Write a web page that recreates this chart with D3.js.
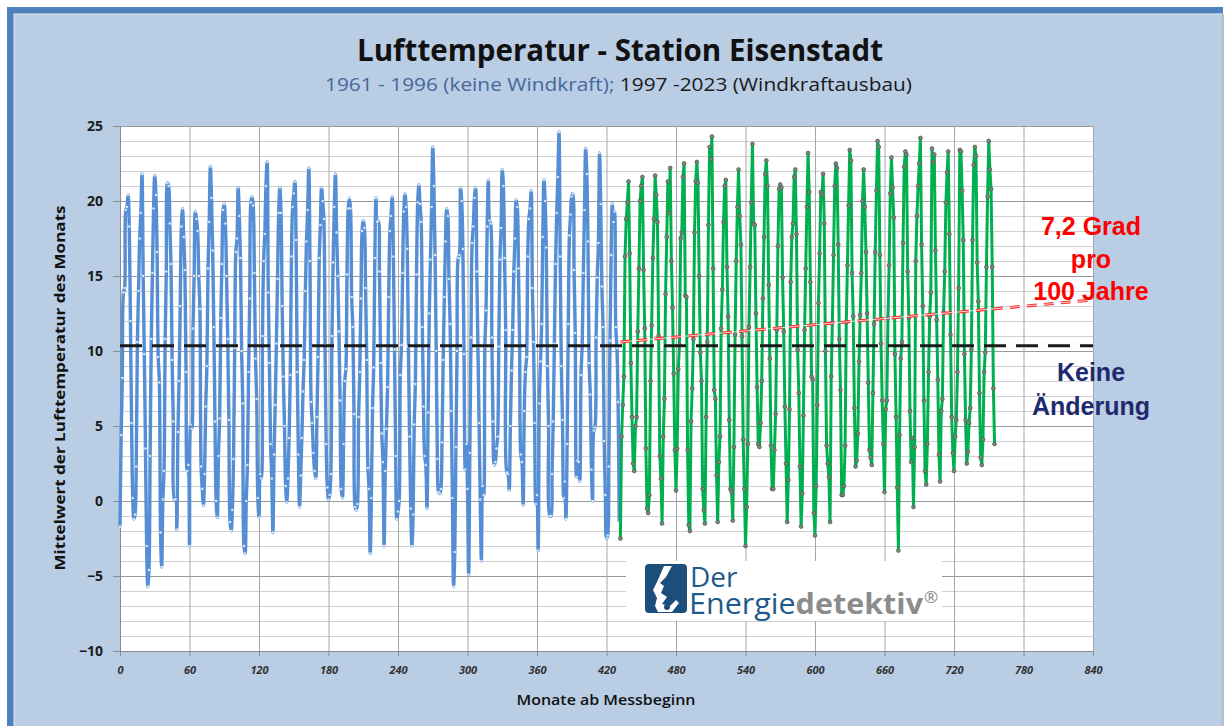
<!DOCTYPE html>
<html>
<head>
<meta charset="utf-8">
<script src="https://cdn.jsdelivr.net/npm/d3@7"></script>
<style>
  body { margin: 0; background: #ffffff; }
  svg { display: block; }
</style>
</head>
<body>
<svg width="1225" height="726"></svg>
<script>
// monthly mean air temperature, one row per year (Jan..Dec)
// 1961 - 1996 (blue)
var blueYears = [
  [-1.7, 4.4, 8.2, 13.9, 14.2, 19.4, 19.6, 20.4, 18.3, 12.0, 5.2, 0.2],
  [-1.2, -0.9, 2.3, 10.6, 14.0, 17.5, 19.2, 21.8, 15.0, 9.8, 3.5, -3.0],
  [-5.7, -4.6, 3.0, 10.8, 15.2, 19.5, 21.7, 20.4, 16.6, 9.6, 7.9, -2.1],
  [-4.4, 0.1, 2.0, 10.8, 15.3, 21.2, 21.0, 18.5, 15.8, 9.4, 5.3, 0.1],
  [0.1, -1.9, 4.6, 8.0, 13.0, 18.3, 19.5, 17.6, 15.4, 8.6, 2.0, 2.4],
  [-3.0, 5.1, 4.8, 11.5, 15.0, 19.3, 18.8, 18.0, 15.0, 12.8, 2.3, 0.8],
  [-0.3, 1.8, 6.3, 9.0, 15.5, 18.6, 22.3, 20.2, 16.7, 11.6, 5.3, 0.0],
  [-1.1, 3.0, 5.5, 12.2, 15.8, 19.4, 19.8, 18.5, 15.0, 10.8, 5.4, -1.4],
  [-2.0, -0.6, 2.8, 10.2, 16.6, 17.5, 20.9, 19.0, 16.2, 10.0, 6.5, -3.0],
  [-3.5, 0.0, 2.4, 8.6, 13.5, 19.9, 20.3, 19.7, 15.2, 9.5, 6.8, 0.2],
  [-1.1, 1.8, 1.5, 11.0, 16.0, 17.8, 21.0, 22.6, 13.9, 9.2, 3.8, 1.5],
  [-2.1, 3.1, 6.4, 10.5, 14.8, 19.2, 20.9, 19.2, 13.0, 8.3, 5.0, 1.0],
  [-0.1, 1.5, 4.2, 8.4, 16.3, 19.6, 20.5, 21.3, 17.4, 8.6, 3.1, -0.4],
  [1.7, 4.2, 7.3, 9.4, 14.0, 17.3, 19.4, 22.2, 16.0, 6.6, 5.2, 3.2],
  [2.0, 1.5, 5.6, 9.6, 16.2, 18.4, 20.9, 20.0, 18.8, 10.4, 3.8, 0.9],
  [0.1, 0.4, 1.8, 11.0, 15.9, 19.6, 21.8, 17.9, 15.0, 11.3, 6.7, 0.8],
  [0.2, 3.8, 8.0, 8.8, 15.1, 19.5, 20.2, 19.5, 13.6, 11.6, 5.8, -0.4],
  [-0.6, -0.2, 5.6, 8.6, 13.5, 18.0, 18.7, 18.2, 14.2, 9.4, 2.2, 0.8],
  [-3.5, 0.2, 6.2, 8.9, 16.2, 20.2, 18.6, 18.7, 15.3, 9.2, 4.5, 2.6],
  [-3.0, 2.0, 4.8, 7.6, 13.6, 18.0, 19.0, 20.3, 16.3, 10.1, 3.0, -1.2],
  [-0.7, 0.0, 8.4, 10.4, 15.2, 19.3, 20.5, 19.6, 16.8, 10.3, 4.3, -0.5],
  [-3.0, -0.9, 5.1, 7.8, 15.1, 19.9, 21.1, 19.8, 18.6, 11.6, 6.3, 3.0],
  [2.4, -0.5, 5.9, 12.5, 16.1, 19.6, 23.6, 21.0, 16.4, 10.0, 2.8, 0.6],
  [0.5, 0.8, 3.9, 9.4, 13.6, 17.3, 19.5, 19.0, 14.8, 11.8, 6.0, 0.2],
  [-5.7, -3.4, 3.6, 10.0, 16.2, 16.4, 20.9, 20.0, 16.8, 9.8, 2.1, 3.8],
  [0.8, -4.9, 3.2, 10.9, 17.2, 18.3, 20.2, 20.9, 15.3, 10.3, 5.2, 0.1],
  [-4.0, 1.0, 0.4, 10.3, 12.7, 18.3, 21.4, 18.7, 18.5, 10.9, 5.3, 2.4],
  [2.6, 3.5, 4.3, 10.3, 16.1, 18.2, 22.1, 21.0, 16.2, 11.4, 1.9, 1.8],
  [0.7, 5.0, 8.7, 11.4, 15.3, 17.5, 20.1, 19.6, 15.5, 10.4, 3.1, 2.6],
  [-0.3, 6.0, 8.6, 9.6, 16.3, 18.8, 19.5, 20.7, 14.2, 10.6, 5.2, -0.2],
  [0.4, -3.3, 6.5, 9.3, 11.8, 17.6, 21.4, 20.0, 16.9, 9.0, 5.0, -1.0],
  [-1.0, 1.8, 5.3, 10.5, 15.8, 19.2, 21.6, 24.6, 16.3, 9.0, 5.4, 0.2],
  [1.3, -1.2, 3.8, 11.8, 17.7, 19.1, 20.3, 20.5, 15.4, 11.2, 1.6, 2.7],
  [2.6, 1.3, 8.4, 10.4, 15.2, 19.4, 23.5, 21.8, 17.3, 9.2, 7.1, 2.1],
  [0.0, 4.7, 4.9, 10.9, 14.9, 17.2, 23.2, 19.8, 14.3, 11.6, 4.0, 0.4],
  [-2.5, -2.3, 2.3, 10.7, 16.4, 19.8, 18.6, 19.3, 11.6, 10.2, 6.6, -1.4]
];

// 1997 - 2023 (green)
var greenYears = [
  [-2.5, 4.3, 6.4, 8.3, 16.3, 18.8, 19.9, 21.3, 16.5, 9.2, 5.6, 2.5],
  [2.0, 5.0, 5.6, 11.3, 15.5, 20.0, 21.0, 21.6, 15.4, 11.5, 3.5, -0.5],
  [-0.8, 0.4, 8.0, 11.7, 16.2, 18.8, 21.7, 20.4, 18.6, 11.0, 3.0, 1.5],
  [-1.5, 4.3, 6.8, 13.8, 17.6, 21.3, 19.2, 22.2, 16.0, 12.9, 8.5, 3.4],
  [0.7, 3.5, 8.8, 10.4, 17.5, 17.9, 21.6, 22.5, 13.7, 13.6, 3.4, -1.6],
  [-2.0, 5.3, 7.5, 10.8, 17.9, 21.3, 22.6, 21.2, 15.0, 9.9, 8.0, 0.8],
  [-0.6, -1.5, 5.6, 10.6, 18.4, 23.6, 22.8, 24.3, 15.5, 7.4, 6.8, 1.7],
  [-1.4, 2.6, 4.3, 11.5, 14.1, 18.6, 21.0, 21.4, 15.6, 12.3, 5.4, 0.8],
  [0.6, -1.3, 3.6, 11.1, 16.0, 19.6, 22.1, 19.0, 17.1, 11.0, 4.1, 0.8],
  [-3.0, -0.4, 3.8, 11.6, 15.6, 19.9, 23.8, 18.5, 18.4, 12.5, 7.6, 3.8],
  [3.6, 5.2, 8.0, 13.5, 17.6, 21.8, 22.7, 21.0, 14.4, 9.5, 3.7, 0.8],
  [0.8, 3.4, 5.8, 11.4, 17.0, 20.8, 21.1, 20.9, 14.9, 11.3, 6.3, 2.5],
  [-1.4, 1.4, 6.1, 14.6, 17.6, 18.5, 21.6, 22.1, 17.8, 10.1, 7.2, 2.3],
  [-1.7, 0.5, 5.7, 11.4, 15.5, 19.6, 23.2, 20.6, 14.6, 8.3, 8.1, -0.8],
  [-2.3, 1.0, 6.4, 13.2, 16.5, 20.6, 20.4, 21.8, 18.5, 10.0, 3.7, 2.5],
  [1.6, -1.4, 8.3, 11.9, 16.4, 21.0, 22.5, 22.2, 17.1, 10.8, 7.4, 0.4],
  [0.4, 1.0, 3.7, 11.9, 15.7, 19.7, 23.4, 22.7, 15.2, 12.3, 6.2, 2.3],
  [2.7, 4.5, 9.3, 12.4, 15.2, 20.0, 22.1, 19.6, 16.6, 12.5, 7.9, 3.4],
  [2.9, 2.4, 7.2, 11.8, 16.6, 20.7, 24.0, 23.6, 16.4, 10.5, 6.7, 3.8],
  [0.6, 6.1, 6.7, 12.2, 15.7, 20.5, 22.9, 20.9, 18.9, 9.8, 5.6, 0.9],
  [-3.3, 4.4, 9.5, 10.6, 17.2, 22.3, 23.3, 23.1, 15.3, 12.2, 6.0, 2.6],
  [4.2, -0.4, 3.6, 16.0, 19.0, 21.0, 22.5, 24.2, 17.1, 13.0, 6.7, 2.0],
  [1.1, 3.8, 8.6, 12.3, 13.9, 23.5, 22.6, 23.1, 16.7, 12.1, 8.1, 3.1],
  [1.3, 6.0, 6.8, 12.6, 15.3, 19.9, 21.9, 23.3, 17.8, 11.1, 5.6, 3.2],
  [2.0, 4.3, 5.4, 8.6, 14.2, 23.4, 23.3, 20.7, 17.4, 9.8, 5.4, 2.5],
  [3.3, 5.2, 6.2, 10.1, 17.4, 22.4, 23.6, 23.0, 15.9, 13.3, 7.2, 2.9],
  [2.4, 4.1, 8.6, 9.9, 15.6, 20.3, 24.0, 22.1, 20.8, 15.6, 7.5, 3.8]
];

var blueStartMonth = 0;
var greenStartMonth = 432;

// reference lines
var meanLine = [{ m: 0, t: 10.35 }, { m: 840, t: 10.35 }];
var trendLine = [{ m: 432, t: 10.6 }, { m: 840, t: 13.4 }];

var yTicks = [-10, -5, 0, 5, 10, 15, 20, 25];
var xTicks = [0, 60, 120, 180, 240, 300, 360, 420, 480, 540, 600, 660, 720, 780, 840];

// turn the yearly rows into points with a month index
function toPoints(rows, start) {
  var pts = [];
  rows.forEach(function (row, yi) {
    row.forEach(function (v, mi) {
      pts.push({ m: start + yi * 12 + mi, t: v });
    });
  });
  return pts;
}
var bluePts = toPoints(blueYears, blueStartMonth);
var greenPts = toPoints(greenYears, greenStartMonth);

var svg = d3.select("svg");

// frame
svg.append("rect").attr("x", 7).attr("y", 7).attr("width", 1216).attr("height", 726)
  .attr("fill", "#4f81bd");
svg.append("rect").attr("x", 14).attr("y", 14).attr("width", 1209).attr("height", 726)
  .attr("fill", "#b9cde5").attr("stroke", "#e4ebf4").attr("stroke-width", 1);
svg.append("line").attr("x1", 1223).attr("x2", 1223).attr("y1", 14).attr("y2", 726)
  .attr("stroke", "#8a8f96").attr("stroke-width", 1);

var plotL = 120, plotR = 1093, plotT = 126, plotB = 651;
var x = d3.scaleLinear().domain([0, 840]).range([plotL, plotR]);
var y = d3.scaleLinear().domain([-10, 25]).range([plotB, plotT]);

// plot area
svg.append("rect").attr("x", plotL).attr("y", plotT).attr("width", plotR - plotL).attr("height", plotB - plotT)
  .attr("fill", "#ffffff");

// minor grid
svg.append("g").selectAll("line")
  .data(d3.range(-10, 26, 1).filter(function (d) { return d % 5 !== 0; }))
  .enter().append("line")
  .attr("x1", plotL).attr("x2", plotR)
  .attr("y1", function (d) { return y(d) + 0.5; }).attr("y2", function (d) { return y(d) + 0.5; })
  .attr("stroke", "#cfcfcf").attr("stroke-width", 1.2);

// major grid
svg.append("g").selectAll("line")
  .data(yTicks)
  .enter().append("line")
  .attr("x1", plotL).attr("x2", plotR)
  .attr("y1", function (d) { return y(d) + 0.5; }).attr("y2", function (d) { return y(d) + 0.5; })
  .attr("stroke", "#9a9a9a").attr("stroke-width", 1);

svg.append("g").selectAll("line")
  .data(xTicks)
  .enter().append("line")
  .attr("x1", function (d) { return x(d) + 0.5; }).attr("x2", function (d) { return x(d) + 0.5; })
  .attr("y1", plotT).attr("y2", plotB)
  .attr("stroke", "#a6a6a6").attr("stroke-width", 1);

// logo box covers the grid
var logo = svg.append("g");
logo.append("rect").attr("x", 626).attr("y", 561).attr("width", 316).attr("height", 60).attr("fill", "#ffffff");
logo.append("rect").attr("x", 645).attr("y", 564).attr("width", 42).attr("height", 49).attr("rx", 4)
  .attr("fill", "#1c4e7c");
logo.append("path")
  .attr("d", "M664,566 L672,566 L666,577 L660,583 L664,586 L661,593 L667,597 L662,604 L670,606 L676,600 L679,603 L672,612 L658,612 L655,606 L657,598 L653,590 L657,582 Z")
  .attr("fill", "#ffffff");
logo.append("circle").attr("cx", 667).attr("cy", 607).attr("r", 3).attr("fill", "#1c4e7c");
logo.append("text").attr("x", 690).attr("y", 587).text("Der")
  .attr("font-family", "Open Sans, sans-serif").attr("font-size", 28).attr("fill", "#1f5a8c");
var lt = logo.append("text").attr("x", 689).attr("y", 614)
  .attr("font-family", "Open Sans, sans-serif").attr("font-size", 29)
  .attr("textLength", 234).attr("lengthAdjust", "spacingAndGlyphs");
lt.append("tspan").text("Energie").attr("fill", "#1f5a8c");
lt.append("tspan").text("detektiv").attr("fill", "#8c8c8c").attr("font-weight", "bold");
logo.append("text").attr("x", 924).attr("y", 603).text("®")
  .attr("font-family", "Open Sans, sans-serif").attr("font-size", 17).attr("fill", "#8c8c8c");

// axes
var yAxis = svg.append("g").attr("transform", "translate(" + plotL + ",0)")
  .call(d3.axisLeft(y).tickValues(yTicks).tickSize(7).tickPadding(10).tickSizeOuter(0));
yAxis.select(".domain").attr("stroke", "#8c8c8c");
yAxis.selectAll(".tick line").attr("stroke", "#8c8c8c");
yAxis.selectAll("text").attr("font-family", "Open Sans, sans-serif").attr("font-size", 14)
  .attr("font-weight", "bold").attr("fill", "#1a1a1a");

var xAxis = svg.append("g").attr("transform", "translate(0," + plotB + ")")
  .call(d3.axisBottom(x).tickValues(xTicks).tickSize(5).tickPadding(10).tickSizeOuter(0));
xAxis.select(".domain").attr("stroke", "#8c8c8c");
xAxis.selectAll(".tick line").attr("stroke", "#8c8c8c");
xAxis.selectAll("text").attr("font-family", "Open Sans, sans-serif").attr("font-size", 11)
  .attr("font-style", "italic").attr("font-weight", "bold").attr("fill", "#333");

// series
var blueLine = d3.line().x(function (d) { return x(d.m); }).y(function (d) { return y(d.t); })
  .curve(d3.curveCatmullRom.alpha(0.5));
var greenLine = d3.line().x(function (d) { return x(d.m); }).y(function (d) { return y(d.t); });

svg.append("path").datum(bluePts).attr("d", blueLine)
  .attr("fill", "none").attr("stroke", "#558ed5").attr("stroke-width", 3.4).attr("stroke-linejoin", "round");
svg.append("g").selectAll("circle").data(bluePts).enter().append("circle")
  .attr("cx", function (d) { return x(d.m); }).attr("cy", function (d) { return y(d.t); })
  .attr("r", 1.3).attr("fill", "#d5e3f5");

svg.append("path").datum(greenPts).attr("d", greenLine)
  .attr("fill", "none").attr("stroke", "#00b050").attr("stroke-width", 3).attr("stroke-linejoin", "round");
svg.append("g").selectAll("circle").data(greenPts).enter().append("circle")
  .attr("cx", function (d) { return x(d.m); }).attr("cy", function (d) { return y(d.t); })
  .attr("r", 1.9).attr("fill", "#6f8f77").attr("stroke", "#5b5b5b").attr("stroke-width", 0.8);

// mean (no change) and trend
var refLine = d3.line().x(function (d) { return x(d.m); }).y(function (d) { return y(d.t); });
svg.append("path").datum(meanLine).attr("d", refLine)
  .attr("stroke", "#1a1a1a").attr("stroke-width", 3).attr("stroke-dasharray", "22,10").attr("fill", "none");
svg.append("path").datum(trendLine).attr("d", refLine)
  .attr("stroke", "#ff2a2a").attr("stroke-width", 3).attr("stroke-dasharray", "10,7").attr("fill", "none");
svg.append("path").datum(trendLine).attr("d", refLine)
  .attr("stroke", "#ffffff").attr("stroke-width", 0.9).attr("opacity", 0.85).attr("fill", "none");

// titles
svg.append("text").attr("x", 620).attr("y", 61).attr("text-anchor", "middle")
  .attr("font-family", "Open Sans, sans-serif").attr("font-weight", "bold").attr("font-size", 31)
  .attr("textLength", 526).attr("lengthAdjust", "spacingAndGlyphs").attr("fill", "#111")
  .text("Lufttemperatur - Station Eisenstadt");

var sub = svg.append("text").attr("x", 325).attr("y", 91)
  .attr("font-family", "Open Sans, sans-serif").attr("font-size", 18)
  .attr("textLength", 587).attr("lengthAdjust", "spacingAndGlyphs");
sub.append("tspan").text("1961 - 1996 (keine Windkraft); ").attr("fill", "#47689a");
sub.append("tspan").text("1997 -2023 (Windkraftausbau)").attr("fill", "#1a1a1a");

svg.append("text").attr("transform", "translate(65,388) rotate(-90)").attr("text-anchor", "middle")
  .attr("font-family", "Open Sans, sans-serif").attr("font-weight", "bold").attr("font-size", 15)
  .attr("textLength", 365).attr("lengthAdjust", "spacingAndGlyphs").attr("fill", "#111")
  .text("Mittelwert der Lufttemperatur des Monats");

svg.append("text").attr("x", 606).attr("y", 705).attr("text-anchor", "middle")
  .attr("font-family", "Open Sans, sans-serif").attr("font-weight", "600").attr("font-size", 15)
  .attr("textLength", 179).attr("lengthAdjust", "spacingAndGlyphs").attr("fill", "#111")
  .text("Monate ab Messbeginn");

// annotations
var notes = [
  { text: "7,2 Grad", y: 235, color: "#ff0000" },
  { text: "pro", y: 268, color: "#ff0000" },
  { text: "100 Jahre", y: 300, color: "#ff0000" },
  { text: "Keine", y: 381, color: "#1f2a6e" },
  { text: "Änderung", y: 415, color: "#1f2a6e" }
];
svg.append("g").selectAll("text").data(notes).enter().append("text")
  .attr("x", 1091).attr("y", function (d) { return d.y; }).attr("text-anchor", "middle")
  .attr("font-family", "Liberation Sans, Arial, sans-serif").attr("font-weight", "bold").attr("font-size", 25)
  .attr("fill", function (d) { return d.color; })
  .text(function (d) { return d.text; });
</script>
</body>
</html>
